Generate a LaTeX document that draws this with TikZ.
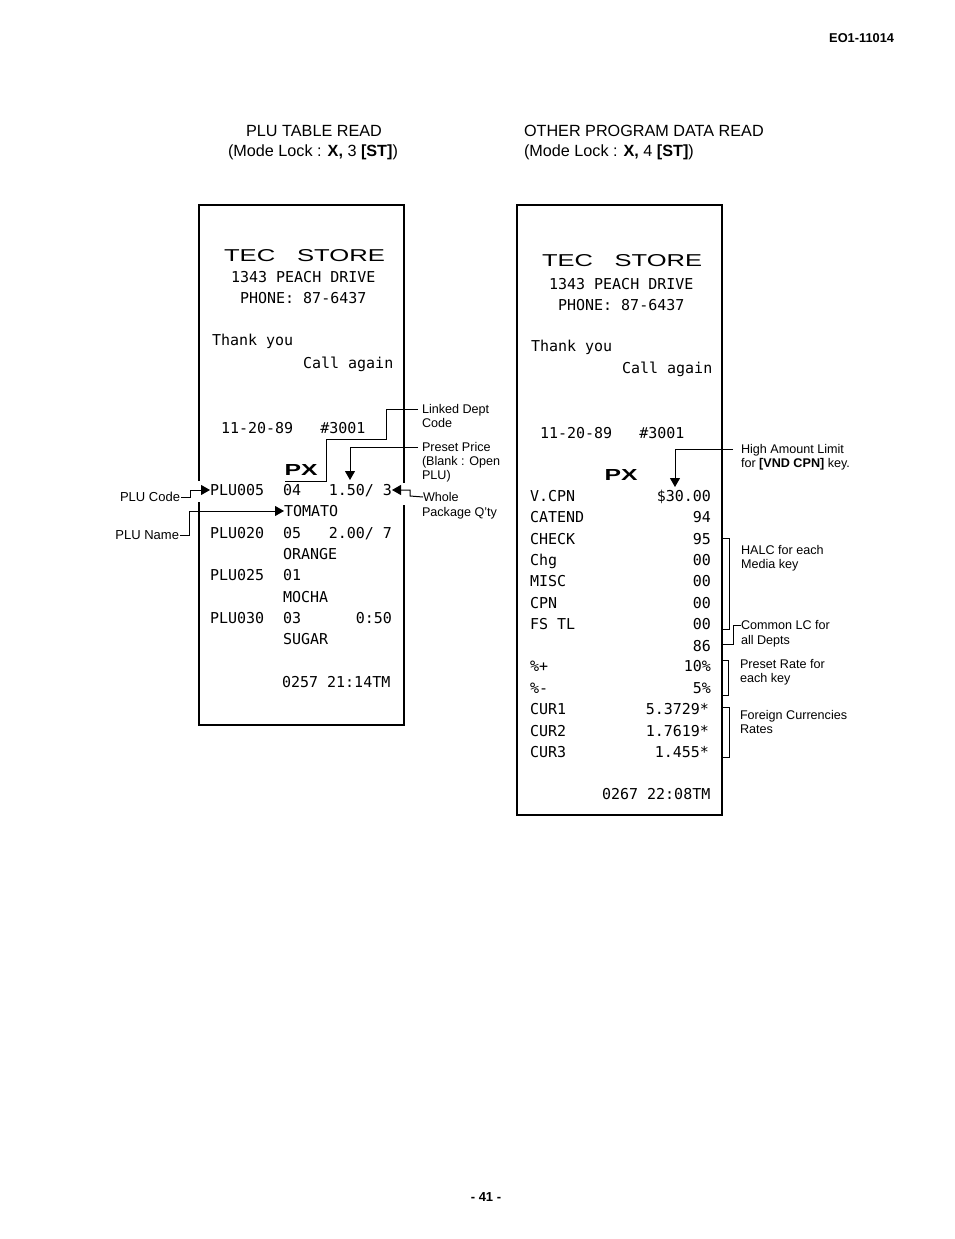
\documentclass[tikz,border=0pt]{standalone}
\usepackage{fontspec}
\setmainfont{Liberation Sans}
\newfontfamily\rcpt{DejaVu Sans Mono}
\usetikzlibrary{arrows.meta}
\tikzset{
  every node/.style={inner sep=0pt,outer sep=0pt,text=black},
  rc/.style={anchor=west,font=\rcpt\fontsize{15}{15}\selectfont,text height=11pt,text depth=0pt},
  rcr/.style={rc,anchor=east},
  lbl/.style={anchor=west,font=\fontsize{12.6}{12.6}\selectfont,text height=8.6pt,text depth=0pt},
  lblr/.style={lbl,anchor=east},
  head/.style={font=\fontsize{16.2}{16.2}\selectfont,text height=11pt,text depth=0pt},
  paper/.style={draw=black,line width=2.6pt},
  conn/.style={draw=black,line width=1pt},
  arr/.style={conn,-{Triangle[width=10pt,length=9pt]}},
  brk/.style={draw=black,line width=1pt},
}
\newcommand{\widesans}[3]{\resizebox{#1pt}{#2pt}{#3}}
\begin{document}
\begin{tikzpicture}[x=1pt,y=-1pt]
\useasboundingbox (0,0) rectangle (954,1239);
\fill[white] (0,0) rectangle (954,1239);
% page furniture
\node[anchor=east,font=\bfseries\fontsize{12.8}{12.8}\selectfont] (docno) at (894,38) {EO1-11014};
\node[anchor=center,font=\bfseries\fontsize{13}{13}\selectfont] (pageno) at (486,1197) {- 41 -};
% headings
\node[head,anchor=center] (h1a) at (314,131) {PLU TABLE READ};
\node[head,anchor=center] (h1b) at (313,151) {(Mode Lock : \textbf{X,} 3 \textbf{[ST]})};
\node[head,anchor=west] (h2a) at (524,131) {OTHER PROGRAM DATA READ};
\node[head,anchor=west] (h2b) at (524,151) {(Mode Lock : \textbf{X,} 4 \textbf{[ST]})};
% receipts
\node[paper,anchor=north west,minimum width=205pt,minimum height=520pt] (rcptL) at (199,205) {};
\node[paper,anchor=north west,minimum width=205pt,minimum height=610pt] (rcptR) at (517,205) {};
% gaps in the left receipt's border around the arrows
\fill[white] (196,481) rectangle (202,502);
\fill[white] (401,483) rectangle (407,505);
% left receipt
\node[anchor=center] (ltec) at (304.5,256) {\widesans{161}{12}{TEC\hspace{0.85em}STORE}};
\node[rc] (laddr) at (231,277) {1343 PEACH DRIVE};
\node[rc] (lphone) at (240,298) {PHONE: 87-6437};
\node[rc] (lthank) at (212,340) {Thank you};
\node[rc] (lcall) at (303,363) {Call again};
\node[rc] (ldate) at (221,428) {11-20-89\ \ \ \#3001};
\node[anchor=center] (lpx) at (301,470) {\widesans{33}{11}{\bfseries PX}};
\node[rc] (plu005) at (210,490) {PLU005};
\node[rc] (l04) at (283,490) {04};
\node[rcr] (lq1) at (392,490) {1.50/ 3};
\node[rc] (tomato) at (284,511) {TOMATO};
\node[rc] (plu020) at (210,533) {PLU020};
\node[rc] (l05) at (283,533) {05};
\node[rcr] (lq2) at (392,533) {2.00/ 7};
\node[rc] (orange) at (283,554) {ORANGE};
\node[rc] (plu025) at (210,575) {PLU025};
\node[rc] (l01) at (283,575) {01};
\node[rc] (mocha) at (283,597) {MOCHA};
\node[rc] (plu030) at (210,618) {PLU030};
\node[rc] (l03) at (283,618) {03};
\node[rcr] (lq4) at (392,618) {0:50};
\node[rc] (sugar) at (283,639) {SUGAR};
\node[rc] (lfoot) at (282,682) {0257 21:14TM};
% left labels
\node[lbl] (linked1) at (422,409) {Linked Dept};
\node[lbl] (linked2) at (422,423) {Code};
\node[lbl] (preset1) at (422,447) {Preset Price};
\node[lbl] (preset2) at (422,461) {(Blank : Open};
\node[lbl] (preset3) at (422,475) {PLU)};
\node[lbl] (whole1) at (423,497) {Whole};
\node[lbl] (whole2) at (422,512) {Package Q'ty};
\node[lblr,font=\fontsize{13}{13}\selectfont] (plucode) at (180,497) {PLU Code};
\node[lblr,font=\fontsize{13}{13}\selectfont] (pluname) at (179,535) {PLU Name};
% left connectors
\coordinate (lk1) at (386,409);
\coordinate (lk2) at (386,439);
\coordinate (lk3) at (326,439);
\coordinate (lk4) at (326,481);
\coordinate (lk5) at (285,481);
\draw[conn,shorten <=4pt] (linked1.west) -- (lk1) -- (lk2) -- (lk3) -- (lk4) -- (lk5);
\coordinate (pp1) at (350,447);
\coordinate (pp2) at (350,480);
\draw[arr,shorten <=4pt] (preset1.west) -- (pp1) -- (pp2);
\draw[arr,shorten <=1pt] (plucode.east) -- ++(10,0) |- (plu005.west);
\draw[arr,shorten <=1pt] (pluname.east) -- ++(10,0) |- (tomato.west);
\coordinate (wh1) at (410,496);
\draw[arr] (whole1.west) -- (wh1) |- (lq1.east);
% right receipt
\node[anchor=center] (rtec) at (622,261) {\widesans{160}{12}{TEC\hspace{0.85em}STORE}};
\node[rc] (raddr) at (549,284) {1343 PEACH DRIVE};
\node[rc] (rphone) at (558,305) {PHONE: 87-6437};
\node[rc] (rthank) at (531,346) {Thank you};
\node[rc] (rcall) at (622,368) {Call again};
\node[rc] (rdate) at (540,433) {11-20-89\ \ \ \#3001};
\node[anchor=center] (rpx) at (621,475) {\widesans{33}{11}{\bfseries PX}};
\node[rc] (a1) at (530,496) {V.CPN};   \node[rcr] (b1) at (711,496) {\$30.00};
\node[rc] (a2) at (530,517) {CATEND};  \node[rcr] (b2) at (711,517) {94};
\node[rc] (a3) at (530,539) {CHECK};   \node[rcr] (b3) at (711,539) {95};
\node[rc] (a4) at (530,560) {Chg};     \node[rcr] (b4) at (711,560) {00};
\node[rc] (a5) at (530,581) {MISC};    \node[rcr] (b5) at (711,581) {00};
\node[rc] (a6) at (530,603) {CPN};     \node[rcr] (b6) at (711,603) {00};
\node[rc] (a7) at (530,624) {FS TL};   \node[rcr] (b7) at (711,624) {00};
\node[rcr] (b8) at (711,646) {86};
\node[rc] (a9) at (530,666) {\%+};     \node[rcr] (b9) at (711,666) {10\%};
\node[rc] (a10) at (530,688) {\%-};    \node[rcr] (b10) at (711,688) {5\%};
\node[rc] (a11) at (530,709) {CUR1};   \node[rcr] (b11) at (709,709) {5.3729*};
\node[rc] (a12) at (530,731) {CUR2};   \node[rcr] (b12) at (709,731) {1.7619*};
\node[rc] (a13) at (530,752) {CUR3};   \node[rcr] (b13) at (709,752) {1.455*};
\node[rc] (rfoot) at (602,794) {0267 22:08TM};
% right labels
\node[lbl] (high1) at (741,449) {High Amount Limit};
\node[lbl] (high2) at (741,463) {for \textbf{[VND CPN]} key.};
\node[lbl] (halc1) at (741,550) {HALC for each};
\node[lbl] (halc2) at (741,564) {Media key};
\node[lbl] (clc1) at (741,625) {Common LC for};
\node[lbl] (clc2) at (741,640) {all Depts};
\node[lbl] (prate1) at (740,664) {Preset Rate for};
\node[lbl] (prate2) at (740,678) {each key};
\node[lbl] (fc1) at (740,715) {Foreign Currencies};
\node[lbl] (fc2) at (740,729) {Rates};
% right connectors and brackets
\coordinate (hi1) at (675,449);
\coordinate (hi2) at (675,487);
\draw[arr,shorten <=8pt] (high1.west) -- (hi1) -- (hi2);
\draw[brk] (723,538) -- (729,538) -- (729,629) -- (723,629);
\coordinate (cl1) at (733,625);
\coordinate (cl2) at (733,644);
\coordinate (cl3) at (723,644);
\draw[conn] (clc1.west) -- (cl1) -- (cl2) -- (cl3);
\draw[brk] (723,660) -- (728,660) -- (728,695) -- (723,695);
\draw[brk] (723,707) -- (729,707) -- (729,757) -- (723,757);
\end{tikzpicture}
\end{document}
